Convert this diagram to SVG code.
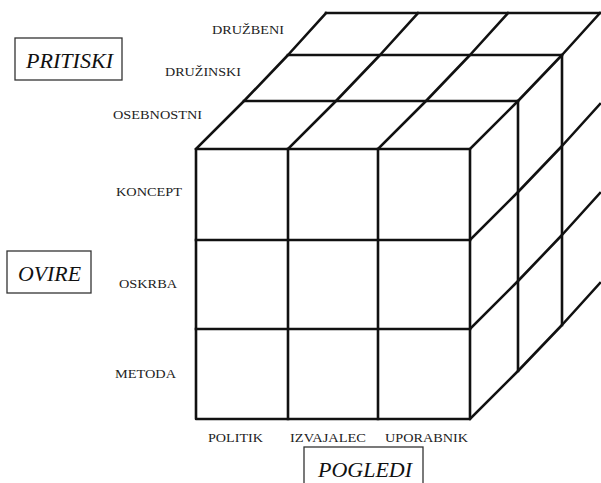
<svg xmlns="http://www.w3.org/2000/svg" width="601" height="483" viewBox="0 0 601 483">
  <style>
    .edge { fill: none; stroke: #111; stroke-width: 2.6; stroke-linecap: square; stroke-linejoin: round; }
    .lbl { font-family: "Liberation Serif", "Times New Roman", serif; font-size: 12px; fill: #222; }
    .box { fill: #fff; stroke: #333; stroke-width: 1.3; }
    .title { font-family: "Liberation Serif", "Times New Roman", serif; font-style: italic; font-size: 22px; fill: #111; }
  </style>
  <rect width="601" height="483" fill="#fff"/>

  <g id="cube" class="edge">
    <!-- front face -->
    <rect x="196" y="149" width="274" height="270"/>
    <line x1="288" y1="149" x2="288" y2="419"/>
    <line x1="378" y1="149" x2="378" y2="419"/>
    <line x1="196" y1="240" x2="470" y2="240"/>
    <line x1="196" y1="329" x2="470" y2="329"/>
    <!-- top face: layer lines -->
    <line x1="244" y1="101" x2="518" y2="101"/>
    <line x1="288" y1="55" x2="562" y2="55"/>
    <line x1="326" y1="13" x2="600" y2="13"/>
    <!-- top face: depth lines -->
    <polyline points="196,149 244,101 288,55 326,13"/>
    <polyline points="288,149 336,101 380,55 418,13"/>
    <polyline points="378,149 426,101 470,55 508,13"/>
    <polyline points="470,149 518,101 562,55 600,13"/>
    <!-- right face: layer verticals -->
    <line x1="518" y1="101" x2="518" y2="371"/>
    <line x1="562" y1="55" x2="562" y2="325"/>
    <!-- right face: depth lines -->
    <polyline points="470,240 518,192 562,146 600,104"/>
    <polyline points="470,329 518,281 562,235 600,193"/>
    <polyline points="470,419 518,371 562,325 600,283"/>
  </g>

  <g id="pritiski">
    <rect class="box" x="15" y="38" width="107" height="42"/>
    <text class="title" x="26" y="68" textLength="87" lengthAdjust="spacingAndGlyphs">PRITISKI</text>
  </g>
  <g id="ovire">
    <rect class="box" x="7" y="251" width="84" height="42"/>
    <text class="title" x="18" y="281" textLength="63" lengthAdjust="spacingAndGlyphs">OVIRE</text>
  </g>
  <g id="pogledi">
    <rect class="box" x="304" y="447" width="119" height="40"/>
    <text class="title" x="318" y="477" textLength="94" lengthAdjust="spacingAndGlyphs">POGLEDI</text>
  </g>

  <g id="depth-labels">
    <text class="lbl" x="212" y="34" textLength="72" lengthAdjust="spacingAndGlyphs">DRUŽBENI</text>
    <text class="lbl" x="165" y="76" textLength="76" lengthAdjust="spacingAndGlyphs">DRUŽINSKI</text>
    <text class="lbl" x="113" y="119" textLength="89" lengthAdjust="spacingAndGlyphs">OSEBNOSTNI</text>
  </g>
  <g id="row-labels">
    <text class="lbl" x="116" y="196" textLength="66" lengthAdjust="spacingAndGlyphs">KONCEPT</text>
    <text class="lbl" x="119" y="288" textLength="58" lengthAdjust="spacingAndGlyphs">OSKRBA</text>
    <text class="lbl" x="115" y="378" textLength="61" lengthAdjust="spacingAndGlyphs">METODA</text>
  </g>
  <g id="column-labels">
    <text class="lbl" x="208" y="442" textLength="55" lengthAdjust="spacingAndGlyphs">POLITIK</text>
    <text class="lbl" x="290" y="442" textLength="76" lengthAdjust="spacingAndGlyphs">IZVAJALEC</text>
    <text class="lbl" x="385" y="442" textLength="83" lengthAdjust="spacingAndGlyphs">UPORABNIK</text>
  </g>
</svg>
